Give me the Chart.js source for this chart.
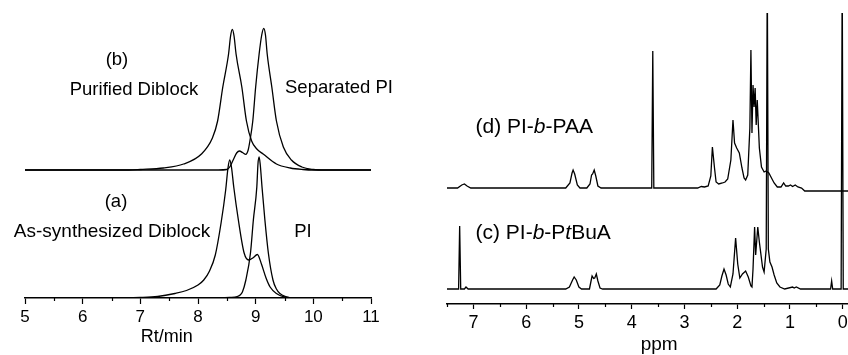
<!DOCTYPE html>
<html>
<head>
<meta charset="utf-8">
<script src="https://cdn.jsdelivr.net/npm/chart.js@4.4.1/dist/chart.umd.min.js"></script>
<style>
  html, body { margin: 0; padding: 0; background: #fff; overflow: hidden; }
  #wrap { position: relative; width: 848px; height: 355px; overflow: hidden; }
  .box { position: absolute; top: 0; height: 355px; }
</style>
</head>
<body>
<div id="wrap">
  <div class="box" style="left:0;width:424px"><canvas id="gpc"></canvas></div>
  <div class="box" style="left:424px;width:432px"><canvas id="nmr"></canvas></div>
</div>
<script>
// ---------- GPC traces (Rt in min, height above own baseline) ----------
const asSynRt = [5.0, 6.5, 7.0, 7.3, 7.6, 7.8, 8.0, 8.1, 8.2, 8.3, 8.4, 8.48, 8.52, 8.55, 8.58, 8.62, 8.70, 8.80, 8.88, 8.95, 9.03, 9.10, 9.18, 9.25, 9.36, 9.50, 9.7, 11.0];
const asSynH  = [0,   0,   0.5, 1.5, 4.5, 7.5, 13,  18,  27,  43,  75,  108,  130,  138,  131,  111,  78,   45,   38,   40,   43.5, 34,   20,   11,   4.5,  1,    0,   0];

const piRt = [5.0, 8.4, 8.55, 8.68, 8.73, 8.77, 8.83, 8.91, 8.96, 9.02, 9.04, 9.06, 9.08, 9.11, 9.16, 9.22, 9.30, 9.36, 9.42, 9.52, 9.65, 11.0];
const piH  = [0,   0,   0.5,  1.5,  3,    6,    18,   45,   78,   111,  134,  141,  133,  111,  78,   45,   18,   9,    4.5,  1.5,  0,    0];

const purRt = [5.0, 6.8, 7.0, 7.4, 7.75, 8.06, 8.25, 8.34, 8.43, 8.53, 8.565, 8.595, 8.625, 8.66, 8.76, 8.84, 8.93, 9.02, 9.13, 9.36, 9.6, 9.82, 10.0, 11.0];
const purH  = [0,   0,   0.5, 2,   6,    16,   32,   49,   83,   116,  134,   140.7, 134,   116,  83,   49,   29,   21,   16,   6,    2,   0.5,  0,    0];

const sepRt = [5.0, 8.35, 8.5, 8.55, 8.61, 8.67, 8.72, 8.77, 8.83, 8.87, 8.90, 8.95, 9.0, 9.06, 9.105, 9.14, 9.17, 9.20, 9.28, 9.36, 9.48, 9.62, 9.80, 10.0, 10.2, 11.0];
const sepH  = [0,   0,    0.5, 3,    10,   17,   19,   17.5, 15.7, 20,   29,   49,   83,  116,  135,   141.7, 135, 116,  83,   49,   23,   10,   3,    0.5,  0,    0];

const gpcTicks = [5, 6, 7, 8, 9, 10, 11];

// ---------- 1H NMR spectra (ppm, intensity above own baseline) ----------
const tbuPpm = [7.5, 7.28, 7.26, 7.24, 7.17, 7.14, 7.10, 5.25, 5.18, 5.12, 5.09, 5.05, 5.00, 4.95, 4.80, 4.77, 4.75, 4.72, 4.70, 4.67, 4.64, 4.60, 4.55,
  2.40, 2.33, 2.29, 2.25, 2.21, 2.17, 2.13, 2.08, 2.03, 1.99, 1.95, 1.90, 1.84, 1.79, 1.74, 1.72, 1.70, 1.67, 1.65, 1.61, 1.58, 1.52, 1.49, 1.45, 1.43, 1.41,
  1.38, 1.34, 1.30, 1.25, 1.19, 1.10, 0.95, 0.92, 0.88, 0.80, 0.23, 0.21, 0.19, 0.03, 0.01, -0.01, -0.1];
const tbuI   = [0,   0,    63,   0,    0,    2,    0,    0,    2,    9,    12,   9,    2,    0,    0,    8,    13,   10.5, 11,   15,   8,    1,    0,
  0,    4,    13,   20,   14,   5,    2,    15,   51,   25,   11,   15,   18,   12,   3,    2,    20,   62,   34,   62,   47,   22,   17,   40,   320,  40,
  27,   22,   14,   6,    2,    0,    2,    1,    2,    0,    0,    8,    0,    0,    320,  0,     0];

const paaPpm = [7.5, 7.30, 7.22, 7.17, 7.12, 7.05, 5.25, 5.17, 5.13, 5.11, 5.08, 5.03, 4.98, 4.85, 4.79, 4.76, 4.74, 4.71, 4.68, 4.64, 4.58, 3.62, 3.60, 3.58,
  2.75, 2.68, 2.62, 2.55, 2.50, 2.47, 2.43, 2.40, 2.35, 2.28, 2.23, 2.18, 2.12, 2.08, 2.05, 2.01, 1.96, 1.91, 1.87, 1.84, 1.80, 1.76, 1.74, 1.72, 1.70,
  1.68, 1.66, 1.64, 1.62, 1.58, 1.54, 1.49, 1.45, 1.40, 1.35, 1.30, 1.24, 1.17, 1.12, 1.08, 1.03, 0.99, 0.95, 0.90, 0.85, 0.78, 0.72, -0.1];
const paaI   = [0,   0,    3,    4,    2,    0,    0,    5,    15,   18,   14,   3,    0,    0,    4,    13,   14,   18,   12,   2,    0,    0,    137,  0,
  0,    1.5,  1,    2,    12,   41,   20,   6,    4,    5,    6,    9,    28,   68,   45,   40,   35,   20,   10,   8,    13,   60,   138,  55,   103,
  81,   100,  63,   88,   40,   21,   16,   17,   15,   10,   5,    1,    1,    5,    2,    2,    3,    1.5,  3,    1,    0,    -3,   -3];

const nmrTicks = [7, 6, 5, 4, 3, 2, 1, 0];

// ---------- helpers ----------
const FONT = '"Liberation Sans", Arial, Helvetica, sans-serif';
Chart.defaults.font.family = FONT;
Chart.defaults.color = '#000';

function pts(xs, ys, off) {
  return xs.map((x, i) => ({ x, y: ys[i] + off }));
}

function trace(data, smooth) {
  return {
    data, borderColor: '#000', borderWidth: 1.3, pointRadius: 0, fill: false,
    tension: smooth ? 0.4 : 0, cubicInterpolationMode: smooth ? 'monotone' : 'default'
  };
}

// short minor ticks at the half steps
const minorTicks = {
  id: 'minorTicks',
  afterDraw(chart, args, opts) {
    const s = chart.scales.x, c = chart.ctx;
    c.save();
    c.strokeStyle = '#000';
    c.lineWidth = 1.2;
    opts.values.forEach(v => {
      const px = Math.round(s.getPixelForValue(v)) + 0.5;
      c.beginPath();
      c.moveTo(px, s.top);
      c.lineTo(px, s.top + opts.len);
      c.stroke();
    });
    c.restore();
  }
};

// text labels placed in data coordinates, with italic pieces
const textLabels = {
  id: 'textLabels',
  afterDraw(chart, args, opts) {
    const c = chart.ctx, sx = chart.scales.x, sy = chart.scales.y;
    const fontFor = (p, size) => `${p.i ? 'italic ' : ''}${size}px ${FONT}`;
    c.save();
    c.fillStyle = '#000';
    c.textBaseline = 'middle';
    c.textAlign = 'left';
    opts.items.forEach(it => {
      const size = it.size || opts.size;
      const px = sx.getPixelForValue(it.x), py = sy.getPixelForValue(it.y);
      let w = 0;
      it.parts.forEach(p => { c.font = fontFor(p, size); w += c.measureText(p.t).width; });
      let x0 = it.align === 'center' ? px - w / 2 : px;
      it.parts.forEach(p => { c.font = fontFor(p, size); c.fillText(p.t, x0, py); x0 += c.measureText(p.t).width; });
    });
    c.restore();
  }
};

function xAxis(o) {
  return {
    type: 'linear', min: o.min, max: o.max, reverse: !!o.reverse,
    afterBuildTicks: s => { s.ticks = o.ticks.map(v => ({ value: v })); },
    ticks: { font: { size: o.tickSize }, color: '#000', padding: 3, maxRotation: 0, autoSkip: false },
    grid: { drawOnChartArea: false, drawTicks: true, tickLength: o.tickLen, tickColor: '#000', tickWidth: 1.2 },
    border: { color: '#000', width: 1.5 },
    afterFit: s => { s.height = o.height; }
  };
}

const common = {
  responsive: true, maintainAspectRatio: false, animation: false, events: [],
};

// ---------- left: GPC ----------
const B_OFF = 128;   // baseline of trace (b)
new Chart(document.getElementById('gpc'), {
  type: 'line',
  data: {
    datasets: [
      trace(pts(asSynRt, asSynH, 0), true),
      trace(pts(piRt, piH, 0), true),
      trace(pts(purRt, purH, B_OFF), true),
      trace(pts(sepRt, sepH, B_OFF), true)
    ]
  },
  options: {
    ...common,
    layout: { padding: { left: 25, right: 53, top: 13, bottom: 0 } },
    scales: {
      x: xAxis({ min: 5, max: 11, ticks: gpcTicks, tickSize: 17, tickLen: 6, height: 57 }),
      y: { display: false, min: 0, max: 285 }
    },
    plugins: {
      legend: { display: false }, tooltip: { enabled: false },
      minorTicks: { values: [5.5, 6.5, 7.5, 8.5, 9.5, 10.5], len: 3 },
      textLabels: {
        size: 18.5,
        items: [
          { x: 6.595, y: 238, align: 'center', parts: [{ t: '(b)' }] },
          { x: 6.89, y: 208, align: 'center', parts: [{ t: 'Purified Diblock' }] },
          { x: 10.445, y: 210, align: 'center', parts: [{ t: 'Separated PI' }] },
          { x: 6.578, y: 96, align: 'center', parts: [{ t: '(a)' }] },
          { x: 6.51, y: 66, align: 'center', parts: [{ t: 'As-synthesized Diblock' }], size: 19 },
          { x: 9.82, y: 66, align: 'center', parts: [{ t: 'PI' }] },
          { x: 7.46, y: -39, align: 'center', parts: [{ t: 'Rt/min' }], size: 18 }
        ]
      }
    }
  },
  plugins: [minorTicks, textLabels]
});

// ---------- right: NMR ----------
const C_OFF = 15, D_OFF = 116;
new Chart(document.getElementById('nmr'), {
  type: 'line',
  data: {
    datasets: [
      trace(pts(tbuPpm, tbuI, C_OFF), false),
      trace(pts(paaPpm, paaI, D_OFF), false)
    ]
  },
  options: {
    ...common,
    layout: { padding: { left: 23, right: 8, top: 13, bottom: 0 } },
    scales: {
      x: xAxis({ min: -0.1, max: 7.5, reverse: true, ticks: nmrTicks, tickSize: 18, tickLen: 5, height: 51 }),
      y: { display: false, min: 0, max: 291 }
    },
    plugins: {
      legend: { display: false }, tooltip: { enabled: false },
      minorTicks: { values: [7.5, 6.5, 5.5, 4.5, 3.5, 2.5, 1.5, 0.5], len: 3 },
      textLabels: {
        size: 21,
        items: [
          { x: 6.96, y: 177, align: 'left', parts: [{ t: '(d) PI-' }, { t: 'b', i: true }, { t: '-PAA' }] },
          { x: 6.96, y: 71, align: 'left', parts: [{ t: '(c) PI-' }, { t: 'b', i: true }, { t: '-P' }, { t: 't', i: true }, { t: 'BuA' }] },
          { x: 3.48, y: -41, align: 'center', parts: [{ t: 'ppm' }], size: 19 }
        ]
      }
    }
  },
  plugins: [minorTicks, textLabels]
});
</script>
</body>
</html>
